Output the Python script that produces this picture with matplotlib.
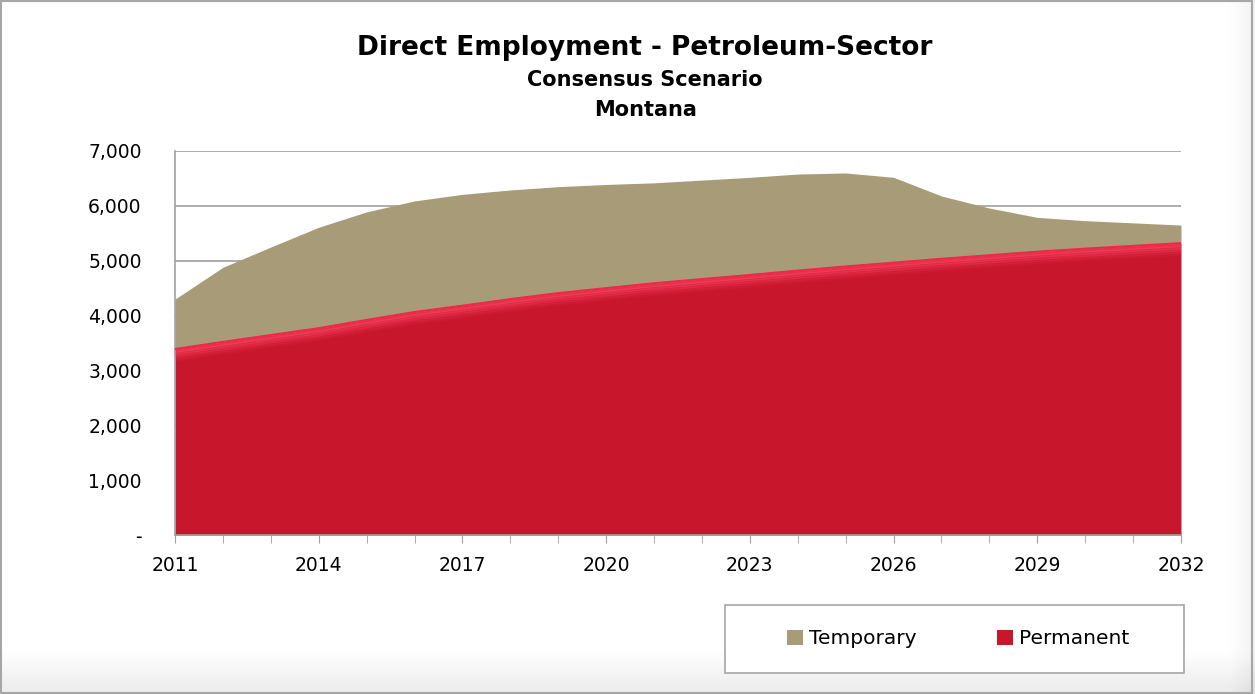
import numpy as np
import matplotlib.pyplot as plt
from matplotlib.ticker import FuncFormatter, MultipleLocator, FixedLocator
from matplotlib.patches import Rectangle

years = list(range(2011, 2033))
permanent = [3390, 3520, 3645, 3770, 3920, 4065, 4180, 4300, 4410, 4500, 4590,
             4665, 4740, 4820, 4895, 4965, 5035, 5100, 5165, 5220, 5270, 5320]
temporary = [910, 1360, 1605, 1840, 1970, 2025, 2030, 1990, 1940, 1890, 1830,
             1805, 1780, 1760, 1705, 1555, 1145, 860, 625, 510, 420, 330]

tan = "#A89C78"
red = "#C8172C"

fig = plt.figure(figsize=(12.55, 6.94), dpi=100)

# soft frame / shadow behind everything
bg = fig.add_axes([0, 0, 1, 1], zorder=-10)
h, w = 694, 1255
yy = np.linspace(0, 1, h)[:, None]
xx = np.linspace(0, 1, w)[None, :]
shade = np.clip((yy - 0.94) / 0.06, 0, 1) * 0.08 + np.clip((xx - 0.98) / 0.02, 0, 1) * 0.05
img = 1 - np.clip(shade, 0, 0.12)
bg.imshow(np.dstack([img, img, img]), aspect="auto", extent=[0, 1, 0, 1])
bg.add_patch(Rectangle((0.001, 0.002), 0.997, 0.996, fill=False, edgecolor="#A6A6A6", lw=1.5))
# legend box
bg.add_patch(Rectangle((725 / w, 1 - 673 / h), (1184 - 725) / w, (673 - 605) / h,
                       facecolor="white", edgecolor="#A6A6A6", lw=1.2))
bg.set_xlim(0, 1)
bg.set_ylim(0, 1)
bg.axis("off")

ax = fig.add_axes([175 / 1255, 1 - 535 / 694, (1181 - 175) / 1255, (535 - 151) / 694])
ax.set_facecolor("none")

total = [p + t for p, t in zip(permanent, temporary)]
ax.fill_between(years, 0, permanent, color=red, lw=0, zorder=2, label="Permanent")
ax.fill_between(years, permanent, total, color=tan, lw=0, zorder=2, label="Temporary")
# bevel glow under the top edge of the red area
for off, a in [(40, 0.55), (80, 0.4), (120, 0.28), (160, 0.16), (200, 0.08)]:
    ax.plot(years, [p - off for p in permanent], color="#FF4A66", lw=2.5, zorder=3, alpha=a)
ax.plot(years, permanent, color="#F02848", lw=1.5, zorder=3)

ax.set_xlim(2011, 2032)
ax.set_ylim(0, 7000)
ax.yaxis.set_major_locator(MultipleLocator(1000))
ax.yaxis.set_major_formatter(FuncFormatter(lambda v, p: "-" if v == 0 else f"{int(v):,}"))
ax.xaxis.set_major_locator(FixedLocator(years[::3]))
ax.xaxis.set_minor_locator(FixedLocator(years))
ax.grid(axis="y", color="#A0A0A0", lw=1.2, zorder=1)
ax.set_axisbelow(True)

for s in ["top", "right"]:
    ax.spines[s].set_visible(False)
ax.spines["left"].set_color("#A0A0A0")
ax.spines["bottom"].set_color("#A0A0A0")
ax.spines["bottom"].set_linewidth(1.2)
ax.spines["left"].set_linewidth(1.2)

ax.tick_params(axis="y", length=0, pad=24, labelsize=13.5)
ax.tick_params(axis="x", which="both", length=6, color="#A0A0A0", direction="out", pad=9, labelsize=13.5)

fig.text(0.514, 0.931, "Direct Employment - Petroleum-Sector", ha="center", va="center",
         fontsize=19, fontweight="bold")
fig.text(0.514, 0.885, "Consensus Scenario", ha="center", va="center", fontsize=15, fontweight="bold")
fig.text(0.514, 0.842, "Montana", ha="center", va="center", fontsize=15, fontweight="bold")

handles, labels = ax.get_legend_handles_labels()
leg = fig.legend(handles[::-1], labels[::-1], loc="center", bbox_to_anchor=(958 / 1255, 1 - 639 / 694),
                 ncol=2, frameon=False, fontsize=14.5, handlelength=0.8, handleheight=0.8,
                 handletextpad=0.3, columnspacing=4.0, borderpad=0, borderaxespad=0)

fig.savefig("out.png", dpi=100)
